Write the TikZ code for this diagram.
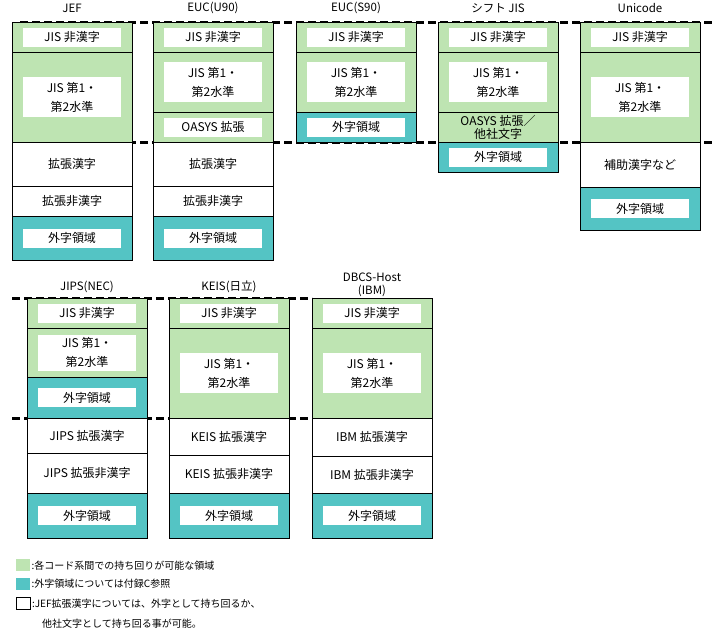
\documentclass[tikz,border=0pt]{standalone}
\usepackage{fontspec}
\setmainfont{Noto Sans CJK JP}
\usetikzlibrary{%
    backgrounds,%
    positioning%
}
\definecolor{jisgreen}{RGB}{190,228,178}
\definecolor{gaijiteal}{RGB}{84,196,196}

\tikzset{
    cell/.style={draw=black,line width=0.8pt},
    common/.style={cell,fill=jisgreen},
    gaiji/.style={cell,fill=gaijiteal},
    ext/.style={cell,fill=white},
    tag/.style={fill=white,inner sep=0pt,minimum width=98pt,minimum height=19pt,align=center,font=\fontsize{12}{16}\selectfont},
    tagtwo/.style={tag,minimum height=40pt,font=\fontsize{12}{19}\selectfont},
    bare/.style={tag,fill=none,font=\fontsize{12}{13}\selectfont},
    title/.style={align=center,inner sep=0pt,font=\fontsize{11.5}{13}\selectfont},
    border line/.style={line width=3pt,dash pattern=on 8pt off 4pt},
    note/.style={anchor=west,inner sep=0pt,font=\fontsize{10}{12}\selectfont},
    swatch/.style={minimum width=14pt,minimum height=12pt,inner sep=0pt,anchor=north west}
}

% One cell of a code column: [tag style]{name}{fill style}{x}{top}{bottom}{text}
\newcommand{\codecell}[7][tag]{%
    \draw[#3] (#4,#5) rectangle (#4+120,#6);
    \node[#1] (#2) at (#4+60,{(#5+#6)/2}) {#7};%
}

\begin{document}
\begin{tikzpicture}[x=1pt,y=-1pt]
    \useasboundingbox (0,0) rectangle (713,632);

    % Dashed limits of the common range, drawn first so that the columns cover them
    \coordinate (upL) at (20,22);
    \coordinate (upR) at (713,22);
    \coordinate (midL) at (20,142);
    \coordinate (midR) at (713,142);
    \coordinate (lowupL) at (12,298);
    \coordinate (lowupR) at (312,298);
    \coordinate (lowmidL) at (12,418);
    \coordinate (lowmidR) at (312,418);
    \draw[border line] (upL) -- (upR) (midL) -- (midR);
    \draw[border line] (lowupL) -- (lowupR) (lowmidL) -- (lowmidR);

    % Column titles
    \node[title] (jef) at (72,8) {JEF};
    \node[title] (eucu) at (213,8) {EUC(U90)};
    \node[title] (eucs) at (356,8) {EUC(S90)};
    \node[title] (sjis) at (498,8) {シフト JIS};
    \node[title] (uni) at (640,8) {Unicode};
    \node[title] (jips) at (87,287) {JIPS(NEC)};
    \node[title] (keis) at (229,287) {KEIS(日立)};
    \node[title] (ibm) at (372,285) {DBCS-Host\\(IBM)};

    % JEF
    \codecell{jefA}{common}{12}{22}{52}{JIS 非漢字}
    \codecell[tagtwo]{jefB}{common}{12}{52}{142}{JIS 第1・\\第2水準}
    \codecell{jefC}{ext}{12}{142}{186}{拡張漢字}
    \codecell{jefD}{ext}{12}{186}{216}{拡張非漢字}
    \codecell{jefE}{gaiji}{12}{216}{260}{外字領域}

    % EUC (U90)
    \codecell{eucuA}{common}{153}{22}{52}{JIS 非漢字}
    \codecell[tagtwo]{eucuB}{common}{153}{52}{112}{JIS 第1・\\第2水準}
    \codecell{eucuC}{common}{153}{112}{142}{OASYS 拡張}
    \codecell{eucuD}{ext}{153}{142}{186}{拡張漢字}
    \codecell{eucuE}{ext}{153}{186}{216}{拡張非漢字}
    \codecell{eucuF}{gaiji}{153}{216}{260}{外字領域}

    % EUC (S90)
    \codecell{eucsA}{common}{296}{22}{52}{JIS 非漢字}
    \codecell[tagtwo]{eucsB}{common}{296}{52}{112}{JIS 第1・\\第2水準}
    \codecell{eucsC}{gaiji}{296}{112}{142}{外字領域}

    % Shift JIS
    \codecell{sjisA}{common}{438}{22}{52}{JIS 非漢字}
    \codecell[tagtwo]{sjisB}{common}{438}{52}{112}{JIS 第1・\\第2水準}
    \codecell[bare]{sjisC}{common}{438}{112}{142}{OASYS 拡張／\\他社文字}
    \codecell{sjisD}{gaiji}{438}{142}{172}{外字領域}

    % Unicode
    \codecell{uniA}{common}{580}{22}{52}{JIS 非漢字}
    \codecell[tagtwo]{uniB}{common}{580}{52}{142}{JIS 第1・\\第2水準}
    \codecell{uniC}{ext}{580}{142}{187}{補助漢字など}
    \codecell{uniD}{gaiji}{580}{187}{230}{外字領域}

    % JIPS (NEC)
    \codecell{jipsA}{common}{27}{298}{328}{JIS 非漢字}
    \codecell[tagtwo,minimum height=36pt]{jipsB}{common}{27}{328}{377}{JIS 第1・\\第2水準}
    \codecell{jipsC}{gaiji}{27}{377}{418}{外字領域}
    \codecell{jipsD}{ext}{27}{418}{453}{JIPS 拡張漢字}
    \codecell{jipsE}{ext}{27}{453}{493}{JIPS 拡張非漢字}
    \codecell{jipsF}{gaiji}{27}{493}{538}{外字領域}

    % KEIS (Hitachi)
    \codecell{keisA}{common}{169}{298}{328}{JIS 非漢字}
    \codecell[tagtwo]{keisB}{common}{169}{328}{418}{JIS 第1・\\第2水準}
    \codecell{keisC}{ext}{169}{418}{455}{KEIS 拡張漢字}
    \codecell{keisD}{ext}{169}{455}{493}{KEIS 拡張非漢字}
    \codecell{keisE}{gaiji}{169}{493}{538}{外字領域}

    % DBCS-Host (IBM)
    \codecell{ibmA}{common}{312}{298}{328}{JIS 非漢字}
    \codecell[tagtwo]{ibmB}{common}{312}{328}{418}{JIS 第1・\\第2水準}
    \codecell{ibmC}{ext}{312}{418}{456}{IBM 拡張漢字}
    \codecell{ibmD}{ext}{312}{456}{493}{IBM 拡張非漢字}
    \codecell{ibmE}{gaiji}{312}{493}{538}{外字領域}

    % Legend
    \node[swatch,fill=jisgreen] (keyA) at (16,559) {};
    \node[note,right=1pt of keyA] (keyAtxt) {:各コード系間での持ち回りが可能な領域};
    \node[swatch,fill=gaijiteal] (keyB) at (16,578) {};
    \node[note,right=1pt of keyB] (keyBtxt) {:外字領域については付録C参照};
    \node[swatch,draw=black,line width=0.8pt,fill=white] (keyC) at (16,597) {};
    \node[note,right=1pt of keyC] (keyCtxt) {:JEF拡張漢字については、外字として持ち回るか、};
    \node[note] (keyDtxt) at (42,624) {他社文字として持ち回る事が可能。};
\end{tikzpicture}
\end{document}
